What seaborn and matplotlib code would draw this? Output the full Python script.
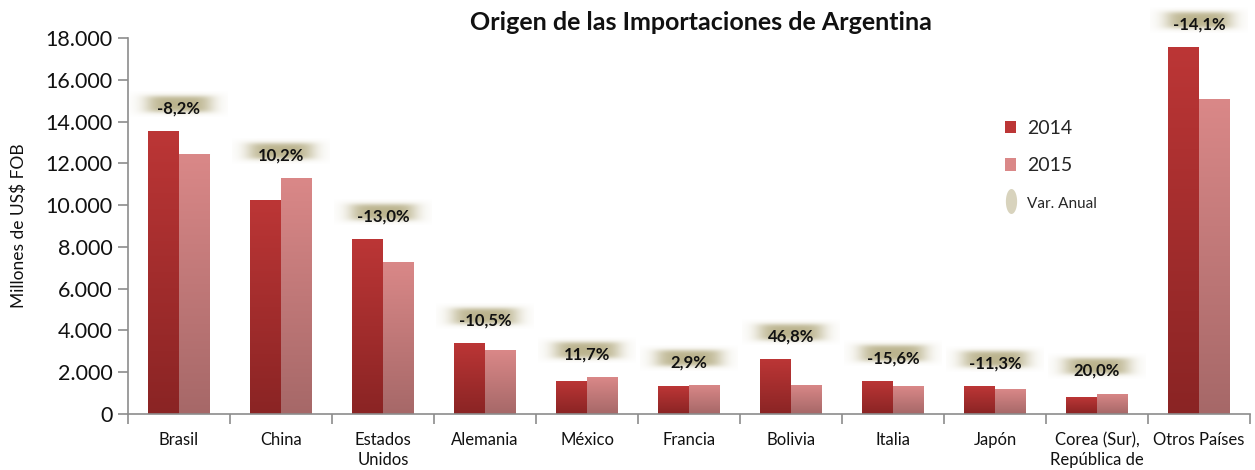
import numpy as np
import pandas as pd
import matplotlib
matplotlib.use("Agg")
import matplotlib.pyplot as plt
import seaborn as sns
from matplotlib.patches import Patch
from matplotlib.lines import Line2D
from matplotlib.path import Path
from matplotlib.ticker import FuncFormatter, FixedLocator

# ---------------- data ----------------
paises = ["Brasil", "China", "Estados\nUnidos", "Alemania", "México", "Francia",
          "Bolivia", "Italia", "Japón", "Corea (Sur),\nRepública de", "Otros Países"]
valores_2014 = [13550, 10240, 8380, 3400, 1580, 1340, 2630, 1590, 1340, 810, 17570]
valores_2015 = [12440, 11290, 7300, 3040, 1770, 1390, 1400, 1340, 1190, 980, 15090]
var_anual = ["-8,2%", "10,2%", "-13,0%", "-10,5%", "11,7%", "2,9%",
             "46,8%", "-15,6%", "-11,3%", "20,0%", "-14,1%"]
anios = ["2014", "2015"]

df = pd.DataFrame({
    "Pais": paises * 2,
    "Año": [anios[0]] * len(paises) + [anios[1]] * len(paises),
    "Valor": valores_2014 + valores_2015,
})

# ---------------- style ----------------
sns.set_style("white")
plt.rcParams["font.family"] = ["Lato", "DejaVu Sans"]

col_top = {"2014": "#BC3636", "2015": "#DA8888"}
col_bot = {"2014": "#8A2424", "2015": "#A66868"}
glow_rgb = np.array([0.72, 0.69, 0.53])

fig = plt.figure(figsize=(12.55, 4.70), dpi=100)
ax = fig.add_axes([128 / 1255, 1 - 414 / 470, (1250 - 128) / 1255, (414 - 38) / 470])

sns.barplot(data=df, x="Pais", y="Valor", hue="Año", hue_order=anios,
            palette=[col_top["2014"], col_top["2015"]], width=0.6, dodge=True,
            saturation=1, legend=False, ax=ax, zorder=2)

ax.set_xlim(-0.5, len(paises) - 0.5)
ax.set_ylim(0, 18000)

# gradient fill for each bar
n = len(paises)
grad = np.linspace(0, 1, 256).reshape(-1, 1)
for i, p in enumerate(ax.patches[: 2 * n]):
    yr = anios[i // n]
    c1 = np.array(matplotlib.colors.to_rgb(col_top[yr]))
    c2 = np.array(matplotlib.colors.to_rgb(col_bot[yr]))
    img = c1[None, None, :] * (1 - grad[:, :, None]) + c2[None, None, :] * grad[:, :, None]
    x0, w, h = p.get_x(), p.get_width(), p.get_height()
    im = ax.imshow(img, extent=[x0, x0 + w, 0, h], aspect="auto",
                   origin="upper", zorder=2.1, interpolation="bilinear")
    im.set_clip_path(p)

ax.set_xlim(-0.5, len(paises) - 0.5)
ax.set_ylim(0, 18000)

# glow + annotation labels
gx = np.linspace(-1, 1, 160)
gy = np.linspace(-1, 1, 50)
GX, GY = np.meshgrid(gx, gy)
d = (np.abs(GX) ** 5 + (np.abs(GY) * 1.05) ** 5) ** (1 / 5)
alpha = 0.95 / (1 + np.exp((d - 0.64) / 0.11))
glow = np.zeros((50, 160, 4))
glow[..., :3] = glow_rgb
glow[..., 3] = alpha

for i, lab in enumerate(var_anual):
    top = max(valores_2014[i], valores_2015[i])
    ty = top + 1080
    gcy = ty + 230
    im = ax.imshow(glow, extent=[i - 0.48, i + 0.48, gcy - 620, gcy + 620],
                   aspect="auto", zorder=3, interpolation="bilinear")
    im.set_clip_on(False)
    ax.text(i, ty, lab, ha="center", va="center", fontsize=12,
            fontweight="bold", color="#111111", zorder=4, clip_on=False)

ax.set_xlim(-0.5, len(paises) - 0.5)
ax.set_ylim(0, 18000)

# axes
for s in ["top", "right"]:
    ax.spines[s].set_visible(False)
for s in ["left", "bottom"]:
    ax.spines[s].set_color("#8C8C8C")
    ax.spines[s].set_linewidth(1.2)

ax.set_yticks(np.arange(0, 18001, 2000))
ax.yaxis.set_major_formatter(FuncFormatter(lambda v, p: f"{int(v):,}".replace(",", ".")))
ax.tick_params(axis="y", which="major", left=True, length=7, width=1.2,
               color="#8C8C8C", labelsize=15.5, pad=4, labelcolor="#111111")
ax.tick_params(axis="x", which="major", length=0, labelsize=12, pad=13,
               labelcolor="#111111")
ax.xaxis.set_minor_locator(FixedLocator(np.arange(-0.5, len(paises), 1.0)))
ax.tick_params(axis="x", which="minor", bottom=True, length=7, width=1.2,
               color="#8C8C8C")
for t in ax.get_xticklabels():
    t.set_linespacing(1.3)
    t.set_va("top")

ax.set_xlabel("")
ax.set_ylabel("Millones de US$ FOB", fontsize=12.5, labelpad=13, color="#111111")

ax.set_title("Origen de las Importaciones de Argentina", fontsize=18,
             fontweight="bold", pad=6, color="#111111", x=0.511)

# legend
theta = np.linspace(0, 2 * np.pi, 40)
ell = Path(np.column_stack([0.45 * np.cos(theta), np.sin(theta)]))
handles = [
    Patch(facecolor=col_top["2014"], edgecolor="none"),
    Patch(facecolor=col_top["2015"], edgecolor="none"),
    Line2D([0], [0], linestyle="none", marker=ell, markersize=18,
           markerfacecolor=glow_rgb, markeredgecolor="none", alpha=0.55),
]
leg = ax.legend(handles, ["2014", "2015", "Var. Anual"], loc="upper left",
                bbox_to_anchor=((997 - 128) / 1122, (414 - 112) / 376),
                frameon=False, fontsize=14, handlelength=0.6, handleheight=0.6,
                labelspacing=1.05, handletextpad=0.55, borderaxespad=0)
leg.get_texts()[2].set_fontsize(11)

fig.savefig("out.png", dpi=100)
